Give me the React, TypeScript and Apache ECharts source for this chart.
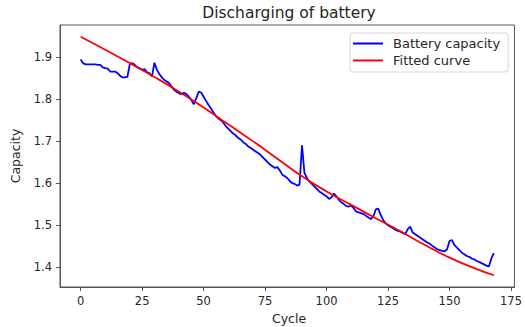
import React, { useEffect, useRef } from "react";
import * as echarts from "echarts";

const chartTitle = "Discharging of battery";
const xAxisName = "Cycle";
const yAxisName = "Capacity";
const seriesNames = ["Battery capacity", "Fitted curve"];

const xTicks = [0, 25, 50, 75, 100, 125, 150, 175];
const yTicks = [1.4, 1.5, 1.6, 1.7, 1.8, 1.9];

// Battery capacity, one value per cycle (cycle = index, 0..168)
const batteryCapacity = [
  1.895, 1.886, 1.883, 1.883, 1.883, 1.883, 1.883, 1.882, 1.882, 1.876,
  1.874, 1.873, 1.866, 1.866, 1.866, 1.862, 1.856, 1.852, 1.852, 1.853,
  1.884, 1.886, 1.882, 1.876, 1.874, 1.870, 1.872, 1.864, 1.862, 1.854,
  1.887, 1.870, 1.860, 1.852, 1.846, 1.842, 1.838, 1.830, 1.822, 1.818,
  1.814, 1.812, 1.815, 1.812, 1.806, 1.798, 1.788, 1.802, 1.818, 1.816,
  1.806, 1.796, 1.786, 1.778, 1.768, 1.760, 1.754, 1.750, 1.744, 1.736,
  1.730, 1.724, 1.718, 1.714, 1.708, 1.704, 1.698, 1.694, 1.688, 1.684,
  1.680, 1.676, 1.672, 1.668, 1.662, 1.656, 1.650, 1.644, 1.640, 1.636,
  1.638, 1.630, 1.620, 1.616, 1.612, 1.605, 1.600, 1.598, 1.594, 1.596,
  1.690, 1.624, 1.612, 1.604, 1.598, 1.592, 1.586, 1.580, 1.576, 1.572,
  1.568, 1.562, 1.566, 1.575, 1.568, 1.560, 1.554, 1.550, 1.545, 1.544,
  1.546, 1.540, 1.532, 1.530, 1.528, 1.526, 1.522, 1.518, 1.514, 1.520,
  1.537, 1.539, 1.524, 1.512, 1.504, 1.499, 1.496, 1.492, 1.488, 1.486,
  1.484, 1.481, 1.478, 1.490, 1.496, 1.482, 1.478, 1.474, 1.470, 1.466,
  1.462, 1.458, 1.455, 1.450, 1.446, 1.442, 1.440, 1.438, 1.437, 1.442,
  1.462, 1.464, 1.452, 1.446, 1.440, 1.434, 1.430, 1.426, 1.424, 1.420,
  1.418, 1.414, 1.412, 1.409, 1.406, 1.403, 1.401, 1.420, 1.433,
];

// Fitted curve, read at sample cycles
const fitCycles = [0, 10, 20, 30, 40, 50, 60, 70, 80, 90, 100, 110, 120, 130, 140, 150, 160, 168];
const fitValues = [1.949, 1.918, 1.886, 1.853, 1.818, 1.780, 1.740, 1.700, 1.658, 1.616, 1.580, 1.548, 1.516, 1.485, 1.452, 1.422, 1.397, 1.380];

const FONT = "'DejaVu Sans', sans-serif";
const TEXT = "#262626";
const SPINE = "#555555";

export default function App() {
  const ref = useRef<HTMLDivElement>(null);

  useEffect(() => {
    if (!ref.current) return;
    const chart = echarts.init(ref.current, null, { renderer: "svg" });
    const gridLeft = 60, gridTop = 25, gridW = 458, gridH = 262;

    chart.setOption({
      animation: false,
      backgroundColor: "#ffffff",
      grid: {
        left: gridLeft, top: gridTop, width: gridW, height: gridH,
        show: true, borderColor: SPINE, borderWidth: 1, backgroundColor: "#ffffff",
      },
      xAxis: {
        type: "value",
        min: -8.4, max: 176.4,
        splitLine: { show: false },
        axisLine: { show: true, onZero: false, lineStyle: { color: SPINE, width: 1 } },
        axisTick: { show: true, customValues: xTicks, length: 4, lineStyle: { color: SPINE } },
        axisLabel: {
          customValues: xTicks, margin: 8,
          fontFamily: FONT, fontSize: 11.5, color: TEXT,
          formatter: (v: number) => String(Math.round(v)),
        },
      },
      yAxis: {
        type: "value",
        min: 1.352, max: 1.977,
        splitLine: { show: false },
        axisLine: { show: true, onZero: false, lineStyle: { color: SPINE, width: 1 } },
        axisTick: { show: true, customValues: yTicks, length: 4, lineStyle: { color: SPINE } },
        axisLabel: {
          customValues: yTicks, margin: 8,
          fontFamily: FONT, fontSize: 11.5, color: TEXT,
          formatter: (v: number) => v.toFixed(1),
        },
      },
      legend: {
        left: 350, top: 33,
        orient: "vertical",
        icon: "rect",
        itemWidth: 30, itemHeight: 2,
        itemGap: 2,
        padding: [3, 8, 4, 3],
        backgroundColor: "#ffffff",
        borderColor: "#d6d6d6", borderWidth: 1, borderRadius: 3,
        textStyle: { fontFamily: FONT, fontSize: 13, color: TEXT, lineHeight: 15, padding: [0, 0, 0, 5] },
        data: seriesNames,
      },
      graphic: [
        {
          type: "text", x: gridLeft + gridW / 2, y: 13,
          style: { text: chartTitle, font: `15.5px ${FONT}`, fill: TEXT, textAlign: "center", textVerticalAlign: "middle" },
        },
        {
          type: "text", x: gridLeft + gridW / 2, y: 318,
          style: { text: xAxisName, font: `12.5px ${FONT}`, fill: TEXT, textAlign: "center", textVerticalAlign: "middle" },
        },
        {
          type: "text", x: 15, y: gridTop + gridH / 2, rotation: Math.PI / 2,
          style: { text: yAxisName, font: `12.5px ${FONT}`, fill: TEXT, textAlign: "center", textVerticalAlign: "middle" },
        },
      ],
      series: [
        {
          name: seriesNames[0], type: "line",
          data: batteryCapacity.map((v, i) => [i, v]),
          symbol: "none", showSymbol: false,
          lineStyle: { color: "#0000ff", width: 1.8 },
          itemStyle: { color: "#0000ff" },
          z: 3,
        },
        {
          name: seriesNames[1], type: "line",
          data: fitCycles.map((c, i) => [c, fitValues[i]]),
          smooth: true,
          symbol: "none", showSymbol: false,
          lineStyle: { color: "#ff0000", width: 1.8 },
          itemStyle: { color: "#ff0000" },
          z: 4,
        },
      ],
    });
    return () => chart.dispose();
  }, []);

  return (
    <div
      ref={ref}
      style={{ position: "fixed", left: 0, top: 0, width: 525, height: 327, background: "#fff" }}
    />
  );
}
